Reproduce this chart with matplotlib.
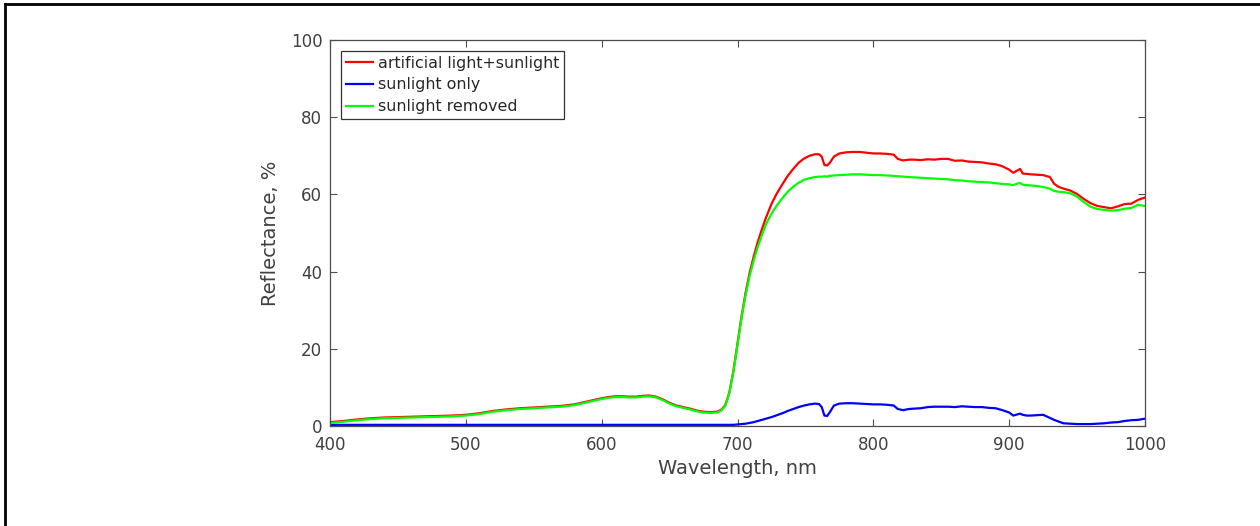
import matplotlib
matplotlib.use("Agg")
import matplotlib.pyplot as plt
from matplotlib.lines import Line2D

wavelength = [400, 410, 420, 430, 440, 450, 460, 470, 480, 490, 500, 510, 520, 530, 540, 550,
              560, 570, 580, 590, 600, 605, 610, 615, 620, 625, 630, 635, 640, 645, 650, 655,
              660, 665, 670, 675, 680, 685, 688, 691, 694, 697, 700, 703, 706, 709, 712, 715,
              718, 721, 725, 729, 733, 737, 741, 745, 749, 753, 757, 760, 762, 764, 766, 768,
              771, 775, 780, 785, 790, 795, 800, 805, 810, 815, 818, 822, 826, 830, 835, 840,
              845, 850, 855, 860, 865, 870, 875, 880, 885, 890, 895, 900, 903, 906, 908, 910,
              913, 916, 920, 925, 930, 933, 936, 940, 945, 950, 955, 960, 965, 970, 975, 980,
              985, 990, 995, 1000]

artificial_plus_sun = [1.0, 1.3, 1.7, 2.0, 2.2, 2.3, 2.4, 2.5, 2.6, 2.7, 2.9, 3.3, 3.9, 4.3, 4.6, 4.8,
                       5.0, 5.2, 5.6, 6.4, 7.2, 7.5, 7.7, 7.7, 7.6, 7.6, 7.8, 7.9, 7.6, 6.9, 6.0, 5.3,
                       4.9, 4.5, 4.0, 3.7, 3.6, 3.7, 4.2, 5.4, 8.7, 14.3, 21.4, 28.5, 34.6, 39.8, 44.0, 47.8,
                       51.0, 54.0, 57.5, 60.3, 62.6, 64.8, 66.6, 68.2, 69.3, 70.0, 70.4, 70.4, 69.8, 67.6, 67.5, 68.2,
                       69.8, 70.6, 70.9, 71.0, 71.0, 70.8, 70.6, 70.6, 70.5, 70.3, 69.2, 68.8, 69.0, 69.0, 68.9, 69.1,
                       69.0, 69.2, 69.2, 68.7, 68.8, 68.5, 68.4, 68.3, 68.0, 67.8, 67.3, 66.4, 65.6, 66.2, 66.6, 65.4,
                       65.3, 65.2, 65.1, 65.0, 64.5, 62.8, 62.0, 61.5, 61.0, 60.1, 58.8, 57.7, 57.0, 56.7, 56.4, 56.9,
                       57.5, 57.6, 58.6, 59.2]

sunlight_only = [0.3, 0.3, 0.3, 0.3, 0.3, 0.3, 0.3, 0.3, 0.3, 0.3, 0.3, 0.3, 0.3, 0.3, 0.3, 0.3,
                 0.3, 0.3, 0.3, 0.3, 0.3, 0.3, 0.3, 0.3, 0.3, 0.3, 0.3, 0.3, 0.3, 0.3, 0.3, 0.3,
                 0.3, 0.3, 0.3, 0.3, 0.3, 0.3, 0.3, 0.3, 0.3, 0.3, 0.4, 0.5, 0.6, 0.8, 1.0, 1.3,
                 1.6, 1.9, 2.3, 2.8, 3.3, 3.9, 4.4, 4.9, 5.3, 5.6, 5.8, 5.7, 4.9, 2.7, 2.6, 3.6,
                 5.3, 5.8, 5.9, 5.9, 5.8, 5.7, 5.6, 5.6, 5.5, 5.3, 4.4, 4.1, 4.4, 4.5, 4.6, 4.9,
                 5.0, 5.0, 5.0, 4.9, 5.1, 5.0, 4.9, 4.9, 4.7, 4.6, 4.1, 3.5, 2.7, 3.0, 3.2, 2.9,
                 2.7, 2.7, 2.8, 2.9, 2.1, 1.6, 1.2, 0.7, 0.6, 0.5, 0.5, 0.5, 0.6, 0.7, 0.9, 1.0,
                 1.3, 1.5, 1.6, 1.9]

sunlight_removed = [0.8, 1.1, 1.5, 1.8, 2.0, 2.1, 2.2, 2.3, 2.4, 2.5, 2.7, 3.1, 3.7, 4.1, 4.4, 4.6,
                    4.8, 5.0, 5.4, 6.2, 7.0, 7.3, 7.5, 7.5, 7.4, 7.4, 7.6, 7.7, 7.4, 6.7, 5.8, 5.1,
                    4.7, 4.3, 3.8, 3.5, 3.4, 3.5, 4.0, 5.2, 8.5, 14.0, 21.0, 28.0, 34.0, 39.0, 43.0, 46.5,
                    49.5, 52.3, 55.0, 57.2, 59.0, 60.7, 62.0, 63.0, 63.8, 64.2, 64.5, 64.6, 64.6, 64.7, 64.6, 64.8,
                    64.9, 65.0, 65.1, 65.2, 65.2, 65.1, 65.0, 65.0, 64.9, 64.8, 64.7, 64.6, 64.5, 64.4, 64.3, 64.2,
                    64.1, 64.0, 63.9, 63.7, 63.6, 63.4, 63.3, 63.2, 63.1, 62.9, 62.7, 62.6, 62.4, 62.8, 63.0, 62.5,
                    62.4, 62.3, 62.2, 61.9, 61.5, 60.9, 60.7, 60.6, 60.3, 59.4, 58.0, 56.8, 56.2, 56.0, 55.8, 55.9,
                    56.3, 56.5, 57.3, 57.0]

x_ticks = [400, 500, 600, 700, 800, 900, 1000]
y_ticks = [0, 20, 40, 60, 80, 100]

text_color = "#404040"
axis_color = "#4d4d4d"

fig = plt.figure(figsize=(12.6, 5.26), dpi=100)
ax = fig.add_axes([330 / 1260, 100 / 526, 815 / 1260, 386 / 526])

ax.plot(wavelength, artificial_plus_sun, color="#ff0000", lw=1.6, label="artificial light+sunlight")
ax.plot(wavelength, sunlight_only, color="#0000ff", lw=1.6, label="sunlight only")
ax.plot(wavelength, sunlight_removed, color="#00ff00", lw=1.6, label="sunlight removed")

ax.set_xlim(400, 1000)
ax.set_ylim(0, 100)
ax.set_xticks(x_ticks)
ax.set_yticks(y_ticks)
ax.tick_params(direction="in", length=5, width=0.8, colors=axis_color, labelcolor=text_color,
               labelsize=12, top=True, right=True)
ax.tick_params(axis="x", pad=7.5)
ax.tick_params(axis="y", pad=5.5)
for s in ax.spines.values():
    s.set_color(axis_color)
    s.set_linewidth(0.9)

ax.set_xlabel("Wavelength, nm", fontsize=14, color=text_color, labelpad=3)
ax.set_ylabel("Reflectance, %", fontsize=14, color=text_color, labelpad=8)

leg = ax.legend(loc="upper left", fontsize=11.4, frameon=True, fancybox=False, framealpha=1,
                edgecolor="#333333", borderaxespad=0.7, handlelength=1.7, handletextpad=0.3,
                labelspacing=0.42, borderpad=0.3)
leg.get_frame().set_linewidth(0.9)
for t in leg.get_texts():
    t.set_color("#262626")

# outer frame lines (left and top)
fig.add_artist(Line2D([5 / 1260, 5 / 1260], [0, 1 - 4 / 526], transform=fig.transFigure,
                      color="black", lw=2))
fig.add_artist(Line2D([5 / 1260, 1], [1 - 4 / 526, 1 - 4 / 526], transform=fig.transFigure,
                      color="black", lw=2))

fig.savefig("out.png", dpi=100)
